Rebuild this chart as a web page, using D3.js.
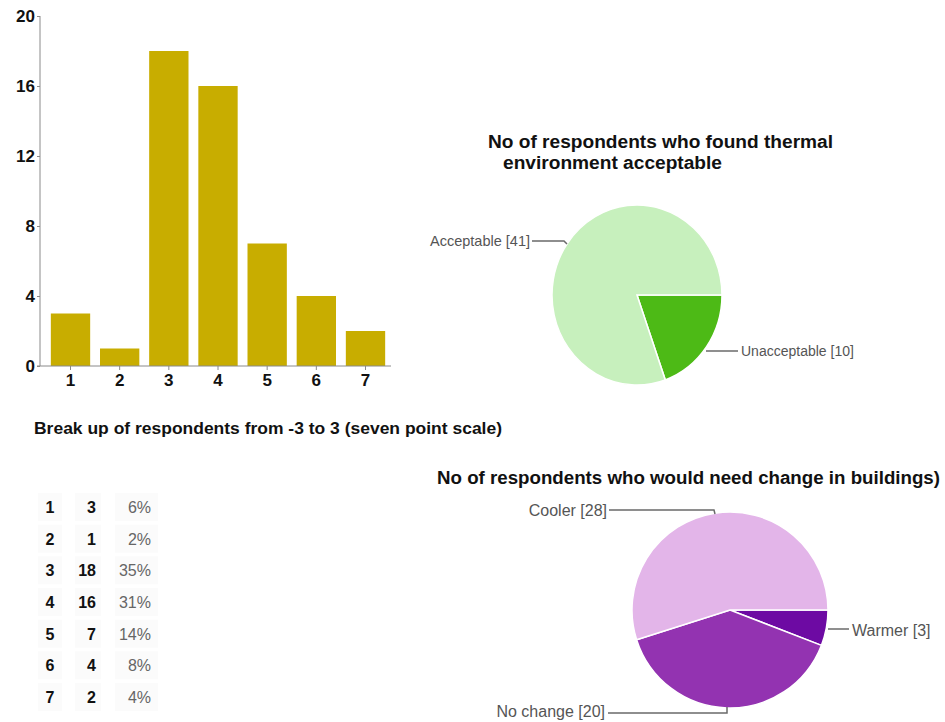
<!DOCTYPE html>
<html>
<head>
<meta charset="utf-8">
<script src="https://cdn.jsdelivr.net/npm/d3@7"></script>
<style>
  html, body { margin: 0; padding: 0; background: #fff; }
  svg { display: block; font-family: "Liberation Sans", Arial, sans-serif; }
</style>
</head>
<body>
<svg id="chart" width="945" height="722"></svg>
<script>
// Seven point scale responses
const scalePoints = ["1", "2", "3", "4", "5", "6", "7"];
const scaleCounts = [3, 1, 18, 16, 7, 4, 2];
const scalePercents = ["6%", "2%", "35%", "31%", "14%", "8%", "4%"];
const yTicks = [0, 4, 8, 12, 16, 20];

// Acceptability of thermal environment
const acceptLabels = ["Unacceptable", "Acceptable"];
const acceptCounts = [10, 41];
const acceptColors = ["#4dba16", "#c7f0bd"];

// Preferred change
const changeLabels = ["Warmer", "No change", "Cooler"];
const changeCounts = [3, 20, 28];
const changeColors = ["#6d0aa3", "#9333b1", "#e3b5e9"];

const svg = d3.select("#chart");

// ---------- Bar chart ----------
const x = d3.scaleBand().domain(scalePoints).range([41, 395]).paddingInner(0.2).paddingOuter(0.2);
const y = d3.scaleLinear().domain([0, 20]).range([366, 16]);

const bars = svg.append("g");
bars.selectAll("rect").data(scalePoints).join("rect")
  .attr("x", d => x(d))
  .attr("width", x.bandwidth())
  .attr("y", (d, i) => y(scaleCounts[i]))
  .attr("height", (d, i) => y(0) - y(scaleCounts[i]))
  .attr("fill", "#c8ad00");

const yAxis = svg.append("g").attr("transform", "translate(40,0)")
  .call(d3.axisLeft(y).tickValues(yTicks).tickSize(3).tickPadding(2));
yAxis.select(".domain").attr("stroke", "#8a8a8a").attr("d", `M0,${y(0)}V${y(20)}`);
yAxis.selectAll(".tick line").attr("stroke", "#8a8a8a");
yAxis.selectAll(".tick text").attr("font-size", 17).attr("font-weight", "bold")
  .attr("fill", "#111").attr("font-family", "Liberation Sans, Arial, sans-serif");

const xAxis = svg.append("g").attr("transform", `translate(0,${y(0)})`)
  .call(d3.axisBottom(x).tickSize(4).tickPadding(4));
xAxis.select(".domain").attr("stroke", "#8a8a8a").attr("d", "M37,0H391");
xAxis.selectAll(".tick line").attr("stroke", "#8a8a8a");
xAxis.selectAll(".tick text").attr("font-size", 17).attr("font-weight", "bold")
  .attr("fill", "#111").attr("font-family", "Liberation Sans, Arial, sans-serif");

// Title under the bar chart
svg.append("text").attr("x", 34).attr("y", 434)
  .attr("font-size", 17).attr("font-weight", "bold").attr("fill", "#111")
  .attr("textLength", 468).attr("lengthAdjust", "spacingAndGlyphs")
  .text("Break up of respondents from -3 to 3 (seven point scale)");

// ---------- Breakdown table ----------
const rowY = d3.scalePoint().domain(scalePoints).range([507, 697]);
const table = svg.append("g").attr("font-size", 16);
scalePoints.forEach((p, i) => {
  const cy = rowY(p);
  [[38, 24], [75, 26], [115, 43]].forEach(([cx, w]) => {
    table.append("rect").attr("x", cx).attr("y", cy - 14).attr("width", w).attr("height", 28)
      .attr("fill", "#fbfbfb");
  });
  table.append("text").attr("x", 50).attr("y", cy + 6).attr("text-anchor", "middle")
    .attr("font-weight", "bold").attr("fill", "#111").text(p);
  table.append("text").attr("x", 96).attr("y", cy + 6).attr("text-anchor", "end")
    .attr("font-weight", "bold").attr("fill", "#111").text(scaleCounts[i]);
  table.append("text").attr("x", 151).attr("y", cy + 6).attr("text-anchor", "end")
    .attr("fill", "#666").text(scalePercents[i]);
});

// ---------- Pie helpers ----------
function drawPie(cx, cy, rx, ry, counts, colors) {
  const pie = d3.pie().sort(null).startAngle(Math.PI / 2).endAngle(Math.PI / 2 + 2 * Math.PI);
  const arc = d3.arc().innerRadius(0).outerRadius(rx);
  const g = svg.append("g").attr("transform", `translate(${cx},${cy}) scale(1,${ry / rx})`);
  g.selectAll("path").data(pie(counts)).join("path")
    .attr("d", arc)
    .attr("fill", (d, i) => colors[i])
    .attr("stroke", "#fff").attr("stroke-width", 1.5);
}

function leader(points) {
  svg.append("path").attr("d", d3.line()(points))
    .attr("fill", "none").attr("stroke", "#6a6a6a").attr("stroke-width", 1.5);
}

function label(xp, yp, text, size, anchor) {
  svg.append("text").attr("x", xp).attr("y", yp + size * 0.36).attr("text-anchor", anchor || "start")
    .attr("font-size", size).attr("fill", "#555").text(text);
}

// ---------- Pie 1: acceptability ----------
svg.append("text").attr("x", 488).attr("y", 148)
  .attr("font-size", 18).attr("font-weight", "bold").attr("fill", "#111")
  .attr("textLength", 345).attr("lengthAdjust", "spacingAndGlyphs")
  .text("No of respondents  who found thermal");
svg.append("text").attr("x", 503).attr("y", 169)
  .attr("font-size", 18).attr("font-weight", "bold").attr("fill", "#111")
  .attr("textLength", 219).attr("lengthAdjust", "spacingAndGlyphs")
  .text("environment acceptable");

drawPie(637, 295, 85, 90, acceptCounts, acceptColors);
leader([[532, 241], [564, 241], [567, 244]]);
label(530, 241, `${acceptLabels[1]}  [${acceptCounts[1]}]`, 14.5, "end");
leader([[706, 351], [738, 351]]);
label(741, 351, `${acceptLabels[0]} [${acceptCounts[0]}]`, 14);

// ---------- Pie 2: preferred change ----------
svg.append("text").attr("x", 437).attr("y", 484)
  .attr("font-size", 18).attr("font-weight", "bold").attr("fill", "#111")
  .attr("textLength", 503).attr("lengthAdjust", "spacingAndGlyphs")
  .text("No of respondents who would need change in buildings)");

drawPie(730, 610, 98, 98, changeCounts, changeColors);
leader([[609, 510], [714, 510], [715, 514]]);
label(607, 510, `${changeLabels[2]} [${changeCounts[2]}]`, 16, "end");
leader([[828, 629], [849, 629]]);
label(852, 630, `${changeLabels[0]} [${changeCounts[0]}]`, 16);
leader([[608, 713], [727, 713], [727, 707]]);
label(605, 711, `${changeLabels[1]} [${changeCounts[1]}]`, 16, "end");
</script>
</body>
</html>
